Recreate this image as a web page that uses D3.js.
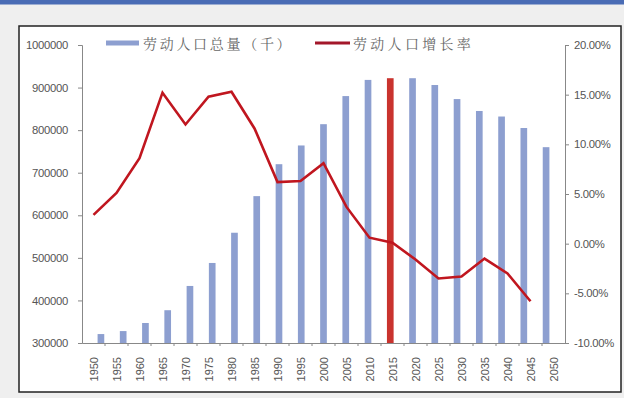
<!DOCTYPE html>
<html><head><meta charset="utf-8">
<script src="https://cdn.jsdelivr.net/npm/d3@7"></script>
<style>html,body{margin:0;padding:0;background:#efefef;}svg{display:block;}</style>
</head><body>
<svg id="c" width="624" height="398"></svg>
<script>
const years = ["1950","1955","1960","1965","1970","1975","1980","1985","1990","1995","2000","2005","2010","2015","2020","2025","2030","2035","2040","2045","2050"];
const laborTotal = [321000,328000,347000,377000,434000,488000,559000,645000,720000,764000,814000,880000,918000,922000,922000,906000,873000,845000,832000,805000,760000];
const laborGrowth = [2.9,5.1,8.6,15.2,12.0,14.8,15.3,11.6,6.2,6.3,8.1,3.7,0.6,0.1,-1.6,-3.5,-3.3,-1.5,-3.0,-5.8,null];
const leftTicks = [300000,400000,500000,600000,700000,800000,900000,1000000];
const rightTicks = [-10,-5,0,5,10,15,20];
const highlightYear = "2015";
const legendLabels = ["劳动人口总量（千）","劳动人口增长率"];

const svg = d3.select("#c");
svg.append("rect").attr("x",0).attr("y",0).attr("width",624).attr("height",398).attr("fill","#efefef");
svg.append("rect").attr("x",0).attr("y",0).attr("width",624).attr("height",4.5).attr("fill","#4a6cb5");
svg.append("rect").attr("x",19).attr("y",26).attr("width",602).attr("height",366).attr("fill","#fff").attr("stroke","#222").attr("stroke-width",1.5);

const L=82,R=565,T=45,B=343;
const x = d3.scaleBand().domain(years).range([L,R]).padding(0.7);
const xb = d3.scaleBand().domain(years).range([L,R]);
const yL = d3.scaleLinear().domain([300000,1000000]).range([B,T]);
const yR = d3.scaleLinear().domain([-10,20]).range([B,T]);

const font = "'Liberation Sans', Arial, sans-serif";

// bars
svg.append("g").selectAll("rect").data(years).join("rect")
  .attr("x",d=>x(d)).attr("width",x.bandwidth())
  .attr("y",(d,i)=>yL(laborTotal[i])).attr("height",(d,i)=>B-yL(laborTotal[i]))
  .attr("fill",d=>d===highlightYear?"#c9332e":"#8d9fd0");

// left axis
const gl = svg.append("g").attr("transform",`translate(${L},0)`)
  .call(d3.axisLeft(yL).tickValues(leftTicks).tickFormat(d3.format("d")).tickSize(4).tickPadding(10));
// right axis
const gr = svg.append("g").attr("transform",`translate(${R},0)`)
  .call(d3.axisRight(yR).tickValues(rightTicks).tickFormat(d=>d.toFixed(2)+"%").tickSize(4).tickPadding(5));
// x axis
const gx = svg.append("g").attr("transform",`translate(0,${B})`)
  .call(d3.axisBottom(xb).tickSize(0).tickFormat(""));
gx.selectAll(".tick").remove();
const bounds = years.map((d,i)=>xb(d)).slice(1);
gx.selectAll("line.tk").data(bounds).join("line").attr("class","tk")
  .attr("x1",d=>d).attr("x2",d=>d).attr("y1",0).attr("y2",3).attr("stroke","#888");
svg.append("g").selectAll("text").data(years).join("text")
  .attr("transform",d=>`translate(${xb(d)+xb.bandwidth()/2},357) rotate(-90)`)
  .attr("text-anchor","end").attr("dominant-baseline","central")
  .attr("font-family",font).attr("font-size","11px").attr("fill","#555").text(d=>d);

[gl,gr,gx].forEach(g=>{
  g.selectAll(".domain").attr("stroke","#888");
  g.selectAll(".tick line").attr("stroke","#888");
  g.selectAll(".tick text").attr("font-family",font).attr("font-size","11.3px").attr("fill","#555").attr("letter-spacing","-0.3px");
});

// line
const pts = years.map((d,i)=>({d,v:laborGrowth[i]})).filter(p=>p.v!==null);
svg.append("path").datum(pts)
  .attr("d",d3.line().x(p=>xb(p.d)+xb.bandwidth()/2).y(p=>yR(p.v)))
  .attr("fill","none").attr("stroke","#c0161f").attr("stroke-width",2.6).attr("stroke-linejoin","miter");

// legend
const cjk = "'Noto Serif CJK SC','Noto Sans CJK SC',sans-serif";
svg.append("rect").attr("x",106).attr("y",40.5).attr("width",33).attr("height",5).attr("fill","#8d9fd0");
svg.append("text").attr("x",143).attr("y",43).attr("dominant-baseline","central")
  .attr("font-family",cjk).attr("font-size","14px").attr("letter-spacing","2.7px").attr("fill","#666").text(legendLabels[0]);
svg.append("line").attr("x1",315).attr("x2",350).attr("y1",43).attr("y2",43).attr("stroke","#a3172a").attr("stroke-width",3);
svg.append("text").attr("x",353).attr("y",43).attr("dominant-baseline","central")
  .attr("font-family",cjk).attr("font-size","14px").attr("letter-spacing","3.3px").attr("fill","#666").text(legendLabels[1]);
</script>
</body></html>
